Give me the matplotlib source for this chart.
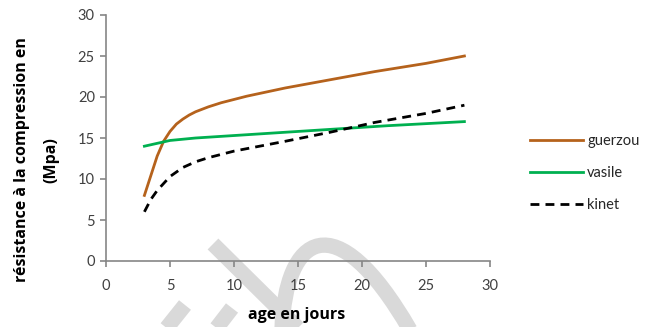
import numpy as np
import matplotlib
matplotlib.use("Agg")
import matplotlib.pyplot as plt
from matplotlib.lines import Line2D
from matplotlib.path import Path
from matplotlib.patches import PathPatch

# values
age_guerzou = [3, 3.5, 4, 4.5, 5, 5.5, 6, 6.5, 7, 8, 9, 11, 14, 17.5, 21, 25, 28]
res_guerzou = [8, 10.4, 12.8, 14.6, 15.8, 16.7, 17.3, 17.8, 18.2, 18.8, 19.3, 20.1, 21.1, 22.1, 23.1, 24.1, 25]

age_vasile = [3, 5, 7, 10, 14, 18, 22, 28]
res_vasile = [14, 14.7, 15.0, 15.3, 15.7, 16.1, 16.5, 17]

age_kinet = [3, 3.5, 4, 5, 6, 7, 8, 10, 14, 17.5, 21, 25, 28]
res_kinet = [6, 7.5, 8.6, 10.3, 11.4, 12.1, 12.6, 13.4, 14.6, 15.7, 16.9, 18, 19]

x_ticks = [0, 5, 10, 15, 20, 25, 30]
y_ticks = [0, 5, 10, 15, 20, 25, 30]

plt.rcParams["font.family"] = ["Lato", "DejaVu Sans"]

W, H = 660, 327
fig = plt.figure(figsize=(6.6, 3.27), dpi=100)


def fp(x, y):
    # figure pixel -> figure fraction
    return x / W, 1 - y / H


# faint watermark strokes behind the chart
wm = dict(color="#d9d9d9", lw=11, solid_capstyle="butt", transform=fig.transFigure, zorder=0)
for seg in [[(213, 244), (300, 330)], [(165, 330), (185, 305)], [(215, 330), (232, 308)]]:
    xs, ys = zip(*[fp(*p) for p in seg])
    fig.add_artist(Line2D(xs, ys, **wm))
arc = Path([fp(282, 330), fp(285, 235), fp(335, 200), fp(410, 330)],
           [Path.MOVETO, Path.CURVE4, Path.CURVE4, Path.CURVE4])
fig.add_artist(PathPatch(arc, fill=False, edgecolor="#d9d9d9", lw=11,
                         capstyle="butt", transform=fig.transFigure, zorder=0))

ax = fig.add_axes([106 / W, 1 - 261 / H, (490 - 106) / W, (261 - 15) / H])
ax.patch.set_alpha(0)

ax.plot(age_guerzou, res_guerzou, color="#b5621c", lw=2, label="guerzou")
ax.plot(age_vasile, res_vasile, color="#00b050", lw=2, label="vasile")
ax.plot(age_kinet, res_kinet, color="black", lw=2, dashes=(3.2, 2.2), label="kinet")

ax.set_xlim(0, 30)
ax.set_ylim(0, 30)
ax.set_xticks(x_ticks)
ax.set_yticks(y_ticks)
for s in ["top", "right"]:
    ax.spines[s].set_visible(False)
for s in ["left", "bottom"]:
    ax.spines[s].set_color("#868686")
    ax.spines[s].set_linewidth(1.2)
ax.tick_params(axis="both", direction="out", length=4, width=1.2, color="#868686",
               labelcolor="#404040", labelsize=10.5)
ax.tick_params(axis="x", pad=9)
ax.tick_params(axis="y", pad=4)

lab = dict(fontsize=11.5, fontweight="bold", color="black", family=["Open Sans", "DejaVu Sans"])
fig.text(*fp(297, 315), "age en jours", ha="center", va="center", **lab)
fig.text(*fp(22, 160), "résistance à la compression en", ha="center", va="center",
         rotation=90, **lab)
fig.text(*fp(51, 160), "(Mpa)", ha="center", va="center", rotation=90, **lab)

ax.legend(loc="center left", bbox_to_anchor=fp(517, 173), bbox_transform=fig.transFigure,
          frameon=False, fontsize=10.5, handlelength=3.6, handletextpad=0.3,
          labelspacing=1.25, labelcolor="#262626")

fig.savefig("out.png", dpi=100)
